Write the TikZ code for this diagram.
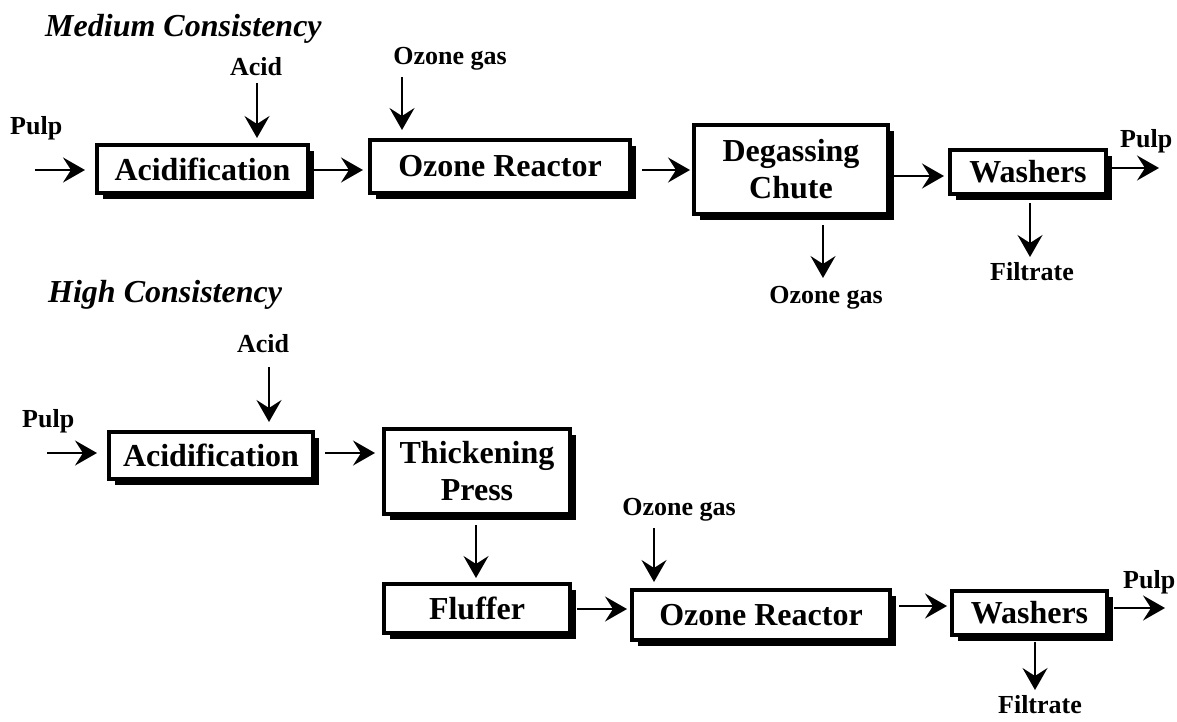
\documentclass[tikz,border=0pt]{standalone}
\usepackage{fontspec}
\setmainfont{Liberation Serif}
\usetikzlibrary{arrows.meta,shadows}

\tikzset{
  proc/.style={draw, line width=4pt, fill=white, inner sep=0pt, align=center,
    font=\bfseries\fontsize{32}{37}\selectfont,
    drop shadow={shadow xshift=6pt, shadow yshift=-6pt, opacity=1, fill=black}},
  lbl/.style={inner sep=0pt, anchor=base, font=\bfseries\fontsize{26}{30}\selectfont},
  ttl/.style={inner sep=0pt, anchor=base west, font=\bfseries\itshape\fontsize{32}{36}\selectfont},
  arr/.style={line width=1.8pt, -{Stealth[length=22pt,width=25pt,inset=8pt]}},
}

\begin{document}
\begin{tikzpicture}[x=1pt, y=-1pt]
\useasboundingbox (0,0) rectangle (1177,722);

% ---------------- Medium consistency line ----------------
\node[ttl] (t1) at (45,37) {Medium Consistency};

\node[proc, minimum width=211pt, minimum height=48pt] (A1) at (202.5,169) {Acidification};
\node[proc, minimum width=260pt, minimum height=53pt] (O1) at (500,166.5) {Ozone Reactor};
\node[proc, minimum width=194pt, minimum height=89pt] (D1) at (791,169.5) {Degassing\\Chute};
\node[proc, minimum width=156pt, minimum height=44pt] (W1) at (1028,172) {Washers};

\node[lbl] (acidL1) at (256,76) {Acid};
\node[lbl, anchor=base west] (pulpL1) at (10,135) {Pulp};
\node[lbl] (ozL1) at (450,65) {Ozone gas};
\node[lbl] (ozL1b) at (826,303) {Ozone gas};
\node[lbl, anchor=base west] (pulpR1) at (1120,148) {Pulp};
\node[lbl] (filtL1) at (1032,280) {Filtrate};

\coordinate (p1s) at (35,170);
\coordinate (a1s) at (257,83);
\coordinate (o1s) at (402,77);
\coordinate (d1e) at (823,278);
\coordinate (w1e) at (1159,168);
\coordinate (w1d) at (1030,257);

\draw[arr, shorten >=10pt] (p1s) -- (p1s -| A1.west);
\draw[arr, shorten >=5pt] (a1s) -- (a1s |- A1.north);
\draw[arr, shorten <=3pt, shorten >=5pt] (A1.east |- 0,170) -- (O1.west |- 0,170);
\draw[arr, shorten >=8pt] (o1s) -- (o1s |- O1.north);
\draw[arr, shorten <=10pt, shorten >=2pt] (O1.east |- 0,170) -- (D1.west |- 0,170);
\draw[arr, shorten <=9pt] (D1.south -| d1e) -- (d1e);
\draw[arr, shorten <=4pt, shorten >=4pt] (D1.east |- 0,176) -- (W1.west |- 0,176);
\draw[arr, shorten <=4pt] (W1.east |- w1e) -- (w1e);
\draw[arr, shorten <=7pt] (W1.south -| w1d) -- (w1d);

% ---------------- High consistency line ----------------
\node[ttl] (t2) at (48,302) {High Consistency};

\node[proc, minimum width=204pt, minimum height=47pt] (A2) at (211,455.5) {Acidification};
\node[proc, minimum width=186pt, minimum height=85pt] (T2) at (477,471.5) {Thickening\\Press};
\node[proc, minimum width=186pt, minimum height=49pt] (F2) at (477,608.5) {Fluffer};
\node[proc, minimum width=258pt, minimum height=50pt] (O2) at (761,615) {Ozone Reactor};
\node[proc, minimum width=155pt, minimum height=44pt] (W2) at (1029.5,613) {Washers};

\node[lbl] (acidL2) at (263,352) {Acid};
\node[lbl, anchor=base west] (pulpL2) at (22,427) {Pulp};
\node[lbl] (ozL2) at (679,515) {Ozone gas};
\node[lbl, anchor=base west] (pulpR2) at (1123,588) {Pulp};
\node[lbl] (filtL2) at (1040,713) {Filtrate};

\coordinate (p2s) at (47,453);
\coordinate (a2s) at (269,367);
\coordinate (o2s) at (654,528);
\coordinate (w2e) at (1165,608);
\coordinate (w2d) at (1035,690);

\draw[arr, shorten >=10pt] (p2s) -- (p2s -| A2.west);
\draw[arr, shorten >=8pt] (a2s) -- (a2s |- A2.north);
\draw[arr, shorten <=10pt, shorten >=7pt] (A2.east |- 0,453) -- (T2.west |- 0,453);
\draw[arr, shorten <=9pt, shorten >=4pt] (T2.south -| 476,0) -- (F2.north -| 476,0);
\draw[arr, shorten <=5pt, shorten >=3pt] (F2.east |- 0,609) -- (O2.west |- 0,609);
\draw[arr, shorten >=6pt] (o2s) -- (o2s |- O2.north);
\draw[arr, shorten <=7pt, shorten >=3pt] (O2.east |- 0,606) -- (W2.west |- 0,606);
\draw[arr, shorten <=5pt] (W2.east |- w2e) -- (w2e);
\draw[arr, shorten <=5pt] (W2.south -| w2d) -- (w2d);
\end{tikzpicture}
\end{document}
